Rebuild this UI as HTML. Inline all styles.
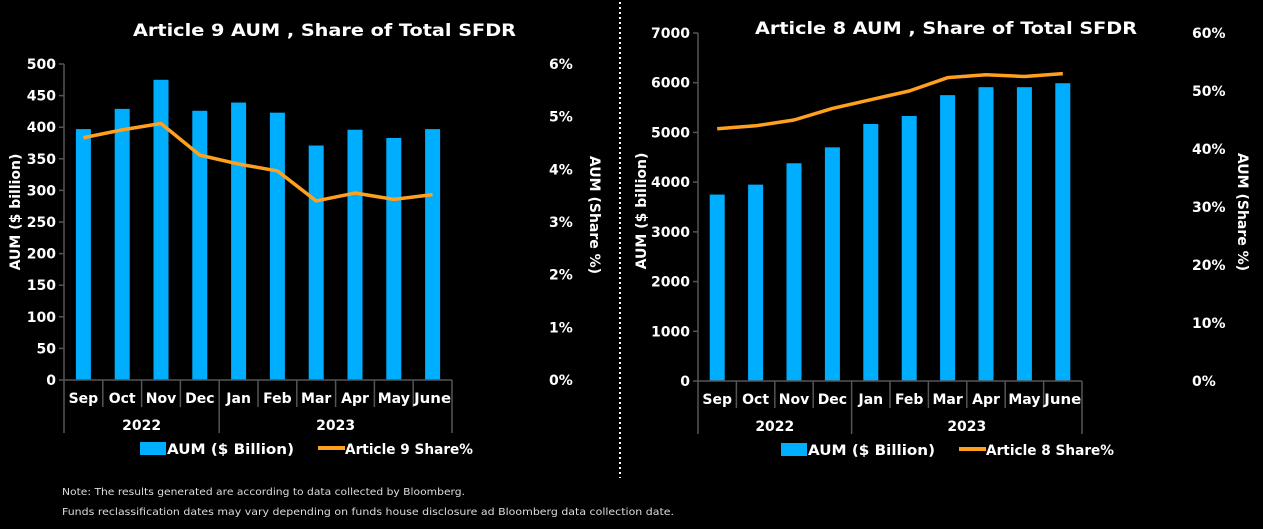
<!DOCTYPE html>
<html><head><meta charset="utf-8"><style>
html,body{margin:0;padding:0;background:#000;width:1263px;height:529px;overflow:hidden}
svg{display:block;font-family:"DejaVu Sans","Liberation Sans",sans-serif}
.t{fill:#fff;font-weight:bold;font-size:14px}
.ti{fill:#fff;font-weight:bold;font-size:17px}
.n{fill:#ddd;font-size:10px}
</style></head><body>
<svg id="s" width="1263" height="529">
<line x1="620" y1="2" x2="620" y2="478" stroke="#fff" stroke-width="2" stroke-dasharray="2,3"/>
<text class="n" x="62" y="495" textLength="403" lengthAdjust="spacingAndGlyphs">Note: The results generated are according to data collected by Bloomberg.</text>
<text class="n" x="62" y="515" textLength="612" lengthAdjust="spacingAndGlyphs">Funds reclassification dates may vary depending on funds house disclosure ad Bloomberg data collection date.</text>
</svg>
<script>
const months=["Sep","Oct","Nov","Dec","Jan","Feb","Mar","Apr","May","June"];
const years=["2022","2023"];
const aum9=[397,429,475,426,439,423,371,396,383,397];
const share9=[4.6,4.75,4.87,4.27,4.1,3.97,3.4,3.55,3.43,3.52];
const aum8=[3750,3950,4380,4700,5170,5330,5750,5910,5910,5990];
const share8=[43.5,44,45,47,48.5,50,52.3,52.8,52.5,53];
const ticksL9=[0,50,100,150,200,250,300,350,400,450,500];
const ticksR9=[0,1,2,3,4,5,6];
const ticksL8=[0,1000,2000,3000,4000,5000,6000,7000];
const ticksR8=[0,10,20,30,40,50,60];
const svg=document.getElementById('s');
const NS="http://www.w3.org/2000/svg";
function mk(tag,at,txt){const e=document.createElementNS(NS,tag);for(const k in at)e.setAttribute(k,at[k]);if(txt!==undefined)e.textContent=txt;svg.appendChild(e);return e;}
function chart(c){
  const w=(c.x1-c.x0)/months.length;
  const ys=v=>c.y0-(v/c.lmax)*(c.y0-c.yt);
  const yr=v=>c.y0-(v/c.rmax)*(c.y0-c.yt);
  const xc=i=>c.x0+w*(i+0.5);
  let t=mk('text',{class:'ti',x:c.tx,y:c.ty,textLength:c.tw,lengthAdjust:'spacingAndGlyphs'},c.title);
  
  c.tl.forEach(v=>{const e=mk('text',{class:'t',x:c.x0-8,y:ys(v)+5,'text-anchor':'end'},v);
    });
  c.tr.forEach(v=>{const e=mk('text',{class:'t',x:c.rx,y:yr(v)+5},v+'%');
    });
  let a=mk('line',{x1:c.x0,y1:c.yt,x2:c.x0,y2:c.y0,stroke:'#555','stroke-width':1.5});
  
  c.tl.forEach(v=>{const e=mk('line',{x1:c.x0-5,y1:ys(v),x2:c.x0,y2:ys(v),stroke:'#555','stroke-width':1.5});
    });
  c.bars.forEach((v,i)=>{const e=mk('rect',{x:xc(i)-7.5,y:ys(v),width:15,height:c.y0-ys(v),fill:'#00aeff'});
    });
  let b=mk('line',{x1:c.x0,y1:c.y0,x2:c.x1,y2:c.y0,stroke:'#555','stroke-width':1.5});
  
  for(let i=0;i<=months.length;i++){const big=(i==0||i==4||i==months.length);
    const e=mk('line',{x1:c.x0+w*i,y1:c.y0,x2:c.x0+w*i,y2:big?c.y0+53:c.y0+27,stroke:'#555','stroke-width':1.5});
    }
  months.forEach((m,i)=>{const e=mk('text',{class:'t',x:xc(i),y:c.y0+23,'text-anchor':'middle'},m);
    if(m.length>3){e.setAttribute('textLength','37');e.setAttribute('lengthAdjust','spacingAndGlyphs');}
    });
  [[0,4],[4,10]].forEach((r,k)=>{const e=mk('text',{class:'t',x:c.x0+w*(r[0]+r[1])/2,y:c.y0+50,'text-anchor':'middle'},years[k]);
    });
  const pts=c.line.map((v,i)=>xc(i)+','+yr(v)).join(' ');
  let l=mk('polyline',{points:pts,fill:'none',stroke:'#ffa01e','stroke-width':3.5,'stroke-linejoin':'round'});
  
  let y1=mk('text',{class:'t',transform:`translate(${c.lax},${c.lay}) rotate(-90)`,'text-anchor':'middle'},'AUM ($ billion)');
  
  let y2=mk('text',{class:'t',transform:`translate(${c.rax},${c.ray}) rotate(90)`,'text-anchor':'middle'},'AUM (Share %)');
  
  let lr=mk('rect',{x:c.lg,y:c.y0+62,width:26,height:13,fill:'#00aeff'});
  
  let lt=mk('text',{class:'t',x:c.lg+27,y:c.y0+74,textLength:127,lengthAdjust:'spacingAndGlyphs'},'AUM ($ Billion)');
  
  let ll=mk('line',{x1:c.lg+178,y1:c.y0+68,x2:c.lg+205,y2:c.y0+68,stroke:'#ffa01e','stroke-width':4});
  
  let lt2=mk('text',{class:'t',x:c.lg+205,y:c.y0+74,textLength:128,lengthAdjust:'spacingAndGlyphs'},c.lname);
  
}
chart({x0:64,x1:452,y0:380,yt:64,lmax:500,rmax:6,tl:ticksL9,tr:ticksR9,bars:aum9,line:share9,title:'Article 9 AUM , Share of Total SFDR',tx:133,ty:36,tw:383,rx:549,lax:20,lay:212,rax:590,ray:215,lg:140,lname:'Article 9 Share%'});
chart({x0:698,x1:1082,y0:381,yt:33,lmax:7000,rmax:60,tl:ticksL8,tr:ticksR8,bars:aum8,line:share8,title:'Article 8 AUM , Share of Total SFDR',tx:755,ty:34,tw:382,rx:1192,lax:646,lay:211,rax:1238,ray:212,lg:781,lname:'Article 8 Share%'});
</script>
</body></html>
